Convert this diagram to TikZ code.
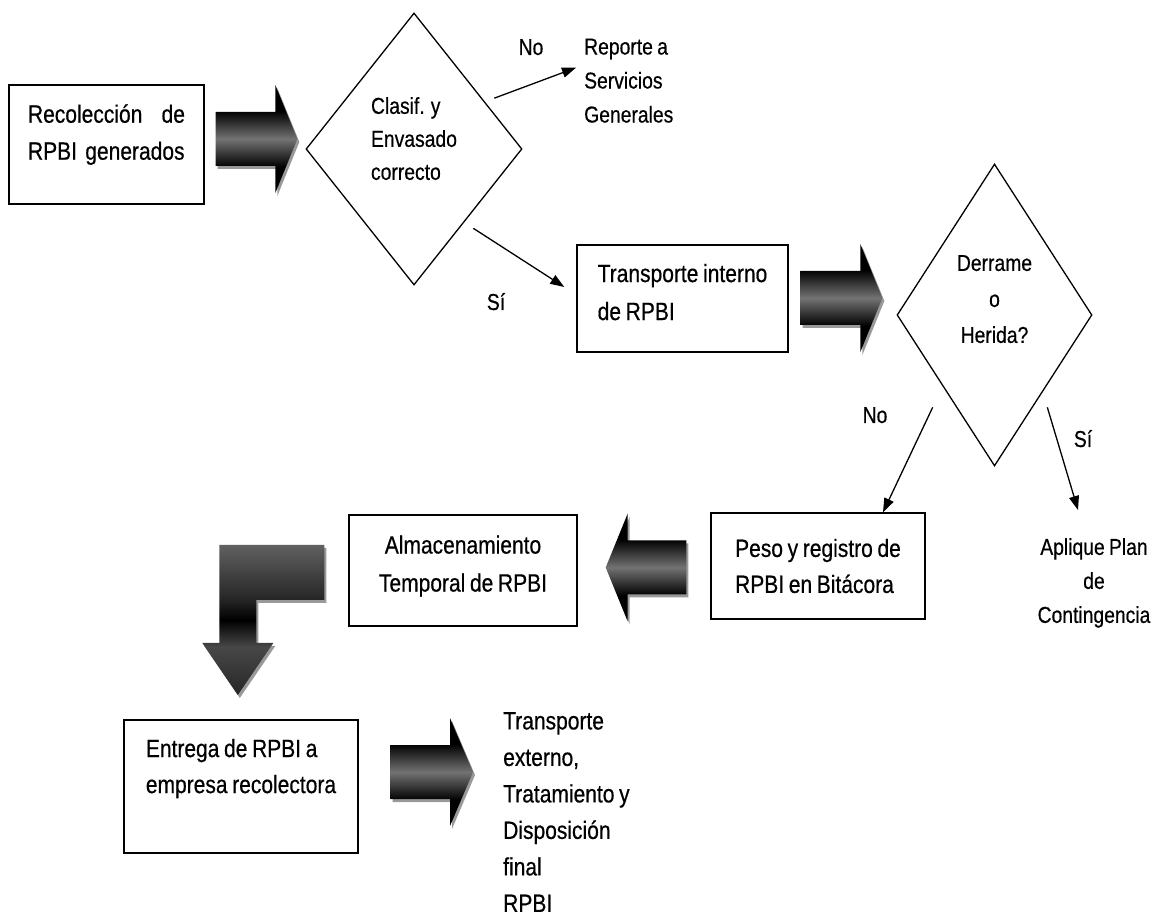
\documentclass[tikz,border=0pt]{standalone}
\usepackage{fontspec}
\setmainfont[FakeStretch=0.84, WordSpace=0.8, FakeBold=0.5]{Liberation Sans}
\usetikzlibrary{shapes.geometric,arrows.meta,calc,shadows,positioning}

% shadings for the block arrows (path box runs from 25bp to 75bp)
\pgfdeclareverticalshading{barshade}{100bp}{color(0bp)=(black); color(37bp)=(black);
  color(50bp)=(black!55); color(63bp)=(black); color(100bp)=(black)}
\pgfdeclareverticalshading{elbowshade}{100bp}{color(0bp)=(black!85); color(25bp)=(black!85);
  color(41bp)=(black!72); color(50bp)=(black); color(57bp)=(black!85); color(75bp)=(black!62);
  color(100bp)=(black!62)}

% block arrow between two points: tail, tip, signed head length
\newcommand{\bigarrow}[3]{%
  \path[bigarrow] let \p1=(#1), \p2=(#2) in
    (\x1,{\y2+27}) -- ({\x2-(#3)},{\y2+27}) -- ({\x2-(#3)},{\y2+54})
    -- (\x2,\y2) -- ({\x2-(#3)},{\y2-54}) -- ({\x2-(#3)},{\y2-27})
    -- (\x1,{\y2-27}) -- cycle;}

\tikzset{
  proc/.style={rectangle, draw, line width=1.4pt, inner sep=0pt, align=left, font=\fontsize{25}{37}\selectfont},
  decision/.style={diamond, draw, line width=1.3pt, inner sep=0pt},
  lbl/.style={inner sep=0pt, font=\fontsize{23}{34}\selectfont},
  flow/.style={line width=1.3pt, -{Triangle[length=14pt,width=10pt]}},
  bigarrow/.style={shading=barshade,
    drop shadow={shadow xshift=2pt, shadow yshift=-3pt, fill=black!40, opacity=1}}
}

\begin{document}
\begin{tikzpicture}[x=1pt,y=1pt]
  \useasboundingbox (0,0) rectangle (1155,920);

  % first row
  \node(rec) [proc, inner xsep=19pt, text width=157pt, minimum width=195pt, minimum height=119pt] at (106.5,775.5)
    {Recolección\hfill de\\RPBI generados\rule[-25pt]{0pt}{0pt}};
  \node(clasif) [decision, minimum width=216pt, minimum height=272pt, shape aspect=0.79, align=left,
    font=\fontsize{23}{33}\selectfont] at (414,771) {Clasif. y\\Envasado\\correcto\rule[-21pt]{0pt}{0pt}};
  \node(no1) [lbl, anchor=base] at (531,865) {No};
  \node(reporte) [lbl, anchor=north west, align=left] at (584,881.5) {Reporte a\\Servicios\\Generales};

  % second row
  \node(transporte) [proc, minimum width=211pt, minimum height=107pt,
    font=\fontsize{25}{38}\selectfont] at (682.5,621.5) {Transporte interno\\de RPBI\rule[-13pt]{0pt}{0pt}};
  \node(si1) [lbl, anchor=base] at (496,610) {Sí};
  \node(derrame) [decision, minimum width=195pt, minimum height=302pt, shape aspect=0.65, align=center,
    font=\fontsize{23}{36}\selectfont] at (994.5,605) {Derrame\\o\\Herida?\rule[-32pt]{0pt}{0pt}};
  \node(no2) [lbl, anchor=base] at (875,497) {No};
  \node(si2) [lbl, anchor=base] at (1083,473) {Sí};

  % third row
  \node(peso) [proc, minimum width=214pt, minimum height=106pt,
    font=\fontsize{25}{36}\selectfont] at (818,354) {Peso y registro de\\RPBI en Bitácora};
  \node(aplique) [lbl, anchor=north, align=center] at (1094,382) {Aplique Plan\\de\\Contingencia};
  \node(almac) [proc, align=center, minimum width=228pt, minimum height=111pt,
    font=\fontsize{25}{38}\selectfont] at (463,349.5) {Almacenamiento\\Temporal de RPBI\rule[-14pt]{0pt}{0pt}};

  % last row
  \node(entrega) [proc, minimum width=234pt, minimum height=133pt,
    font=\fontsize{25}{36}\selectfont] at (241,133.5) {Entrega de RPBI a\\empresa recolectora\rule[-41pt]{0pt}{0pt}};
  \node(final) [inner sep=0pt, anchor=north west, align=left, font=\fontsize{25}{36.5}\selectfont] at (503,208)
    {Transporte\\externo,\\Tratamiento y\\Disposición\\final\\RPBI};

  % thin arrows
  \draw[flow] ([xshift=26pt,yshift=-17.5pt]clasif.north east) -- ([xshift=-8pt,yshift=13pt]reporte.west);
  \draw[flow] ([xshift=5pt,yshift=-11pt]clasif.south east) -- ([xshift=-12pt,yshift=11.5pt]transporte.west);
  \draw[flow] ([xshift=-12.75pt,yshift=-16.5pt]derrame.south west) -- ([xshift=65pt]peso.north);
  \draw[flow] ([xshift=3.75pt,yshift=-16.5pt]derrame.south east) -- ([xshift=-16pt,yshift=28pt]aplique.north);

  % block arrows
  \bigarrow{[xshift=11pt]rec.east}{[xshift=-8pt,yshift=10pt]clasif.west}{22}
  \bigarrow{[xshift=12pt]transporte.east}{[xshift=-14pt,yshift=17pt]derrame.west}{22}
  \bigarrow{[xshift=-24pt]peso.west}{[xshift=28pt,yshift=3pt]almac.east}{-22}
  \bigarrow{[xshift=32pt]entrega.east}{[xshift=-30pt,yshift=40pt]final.west}{23}
  \path[bigarrow, shading=elbowshade]
    ([xshift=-24pt,yshift=25.5pt]almac.west) -- ++(-105,0) -- ++(0,-98) -- ++(-17,0)
    -- ++(35.5,-52) -- ++(35.5,52) -- ++(-17,0) -- ++(0,43) -- ++(68,0) -- cycle;
\end{tikzpicture}
\end{document}
